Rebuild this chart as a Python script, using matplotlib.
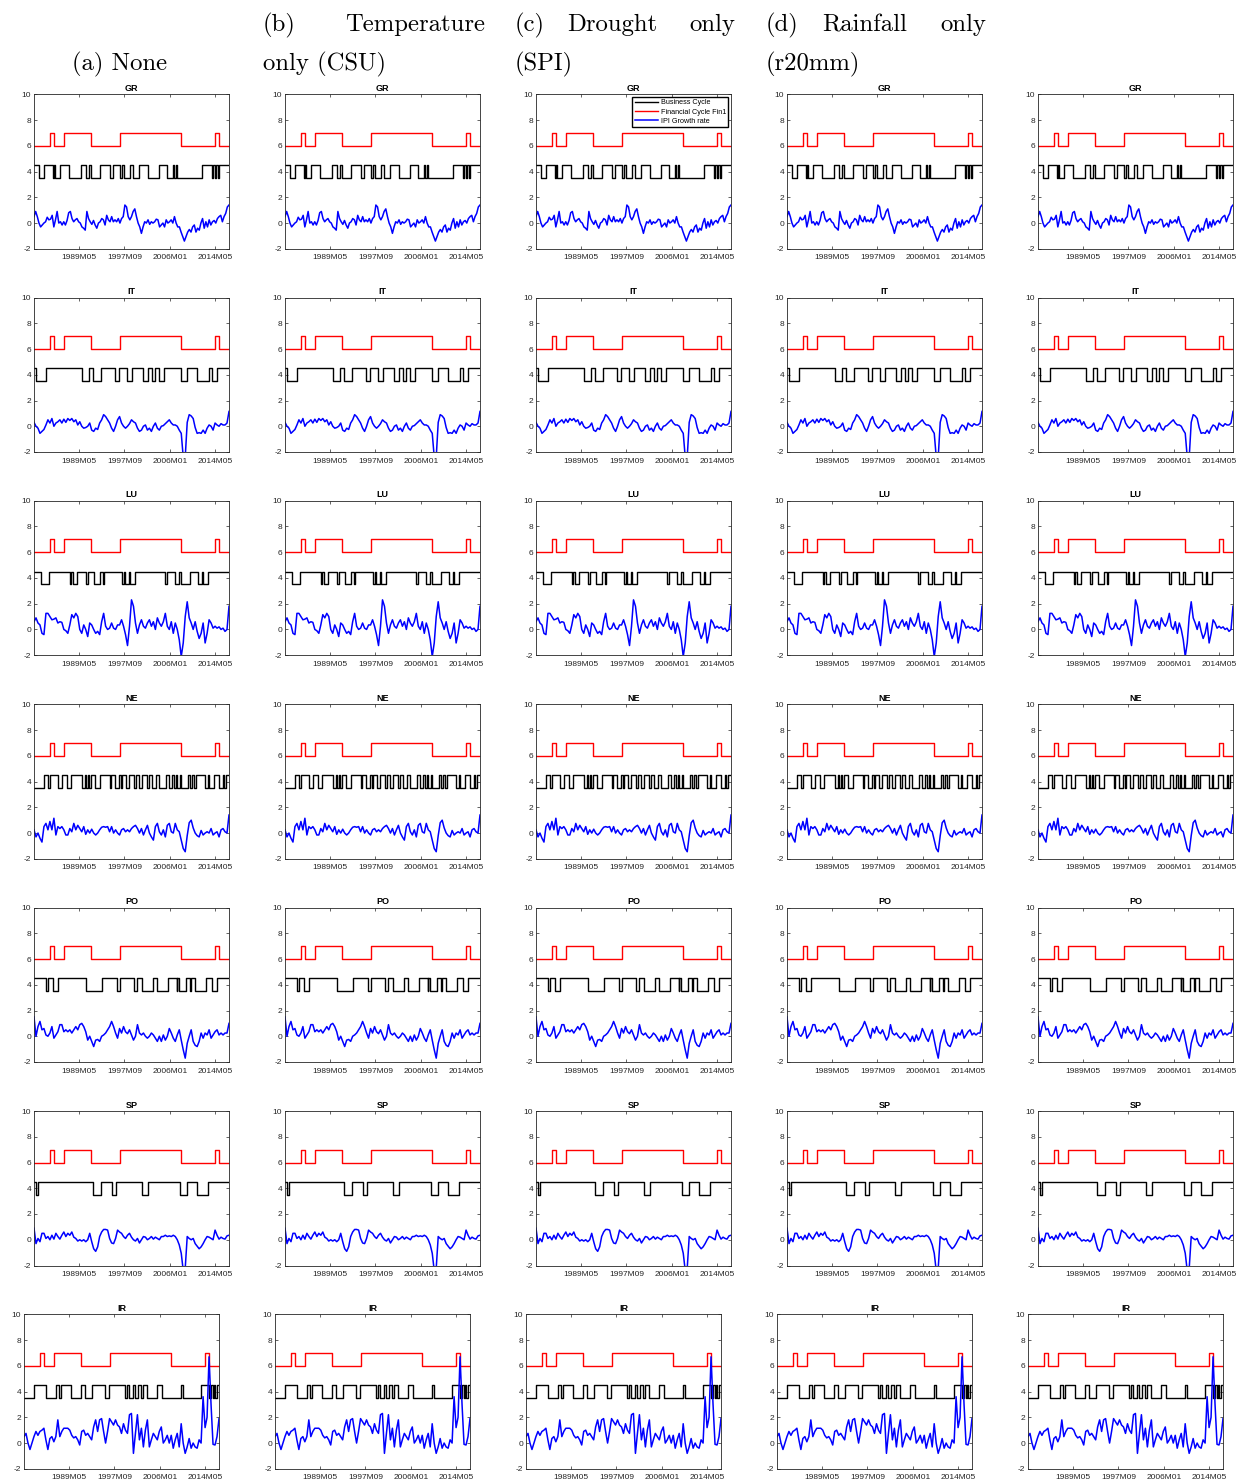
import numpy as np
import matplotlib
matplotlib.use("Agg")
import matplotlib.pyplot as plt

# Monatsindex 1 = 1981M01 ... 432 = 2016M12
months = np.arange(1, 433)
tick_pos = [101, 201, 301, 401]
tick_lab = ["1989M05", "1997M09", "2006M01", "2014M05"]

countries = ["GR", "IT", "LU", "NE", "PO", "SP", "IR"]

# Finanzzyklus (gleich für alle Länder): Phasen im Zustand "hoch"
fin_high = [(37, 46), (68, 127), (190, 326), (402, 410)]

# Konjunkturzyklus: Phasen im Zustand "hoch" (4.5), sonst 3.5
bc_gr = [(1, 13), (22, 44), (46, 48), (59, 78), (104, 115), (122, 126), (146, 168), (175, 190),
         (195, 200), (213, 219), (233, 254), (278, 294), (308, 311), (314, 317), (373, 394),
         (397, 400), (403, 408), (410, 433)]
bc_it = [(1, 5), (27, 108), (122, 132), (150, 179), (189, 206), (217, 241), (252, 262), (268, 278),
         (288, 327), (340, 362), (387, 394), (405, 433)]
bc_lu = [(1, 16), (35, 81), (83, 88), (97, 115), (121, 133), (146, 154), (155, 195), (199, 202),
         (210, 213), (224, 290), (294, 312), (321, 327), (345, 363), (373, 375), (385, 433)]
bc_ne = [(22, 32), (37, 53), (62, 75), (82, 108), (113, 117), (120, 122), (127, 135), (146, 168),
         (171, 181), (189, 193), (196, 205), (212, 221), (227, 232), (239, 250), (256, 261),
         (270, 278), (292, 300), (305, 310), (314, 316), (323, 327), (341, 346), (351, 354),
         (359, 378), (385, 387), (399, 409), (418, 421), (425, 433)]
bc_po = [(1, 27), (32, 44), (54, 115), (151, 184), (191, 221), (228, 239), (265, 272), (297, 316),
         (317, 321), (338, 345), (349, 356), (381, 394), (405, 433)]
bc_sp = [(1, 5), (9, 132), (148, 173), (182, 240), (252, 323), (340, 362), (385, 433)]
bc_ir = [(24, 49), (71, 78), (82, 104), (126, 135), (151, 179), (189, 224), (229, 232), (241, 246),
         (254, 259), (263, 273), (294, 307), (348, 352), (392, 410), (414, 418), (421, 424), (427, 433)]

ipi_gr = [0.5, 0.9, 0.5, 0, -0.3, -0.15, 0, 0.1, 0.45, 0.25, 0.3, 0.6, -0.3, 0.25, 0.9, 0, 0.1,
          -0.15, 0.1, -0.15, 0.2, 0.8, 0.9, 0.35, 0.1, 0.25, 0.35, 0.1, 0, -0.3, -0.4, -0.55, 0.9,
          0.35, 0.1, -0.1, 0.2, -0.15, -0.4, 0, 0.1, 0.35, 0.25, -0.15, 0.6, 0.25, 0.1, 0.5, 0.1,
          0.25, 0.1, 0.35, 0, 0.35, 0.5, 1.4, 1.25, 0.5, 0.25, 0.5, 0.9, 1.1, 0.5, 0, -0.3, -0.8,
          -0.3, 0.1, 0, 0.25, -0.1, 0.1, 0, 0.1, 0.3, 0.25, -0.3, -0.15, 0, -0.3, 0.25, 0, 0.1,
          0.25, 0, 0.5, 0, -0.3, -0.3, -0.7, -1.05, -1.4, -1.05, -0.7, -0.5, -0.7, -0.3, -0.15,
          -0.7, -0.4, -0.55, 0, 0.35, -0.4, 0.1, -0.3, 0.25, -0.15, 0.1, 0.2, 0, 0.35, 0.5, 0.6,
          0.1, 0.5, 0.75, 1.25, 1.4]
ipi_it = [0.3, 0, -0.15, -0.55, -0.4, -0.25, 0.1, 0.5, 0.25, 0.6, 0, 0.25, 0.35, 0.5, 0.25, 0.55,
          0.3, 0.6, 0.45, 0.6, 0.35, 0.5, 0.1, 0.35, 0, -0.15, -0.1, 0, 0.25, -0.3, -0.4, -0.15,
          -0.25, 0.25, 0.5, 0.9, 0.75, 0.5, 0.25, -0.15, -0.4, 0, 0.5, 0.75, 0.25, 0, -0.15, 0,
          0.2, 0.5, 0.35, 0.25, -0.15, -0.4, -0.3, 0, 0.1, -0.3, -0.15, -0.4, 0, 0.25, -0.15,
          -0.3, 0, 0.05, 0.2, 0.35, 0.5, 0.25, 0.1, 0.1, 0, -0.3, -0.55, -2.4, -2.4, 0.3, 0.9,
          0.8, 0.6, -0.1, -0.55, -0.5, -0.55, -0.3, -0.55, -0.15, 0.1, 0, -0.3, 0.25, 0.1, 0, 0.2,
          0.1, 0.1, 0.25, 1.15]
ipi_lu = [0.6, 0.9, 0.5, 0.35, -0.3, -0.4, 1.25, 1.25, 1.0, 0.75, 0.8, 0.9, 0.5, 0.6, 0.55, 0,
          -0.1, -0.3, 0.35, 1.15, 0.9, 1.25, 1.0, 0, -0.3, 0.35, 0, -0.55, 0.5, 0.35, 0, -0.3,
          -0.15, -0.4, 0.6, 1.25, 0.25, 0, 0.1, 0.5, 0.1, 0, 0.35, 0.35, 0.75, 0.25, -0.4, -1.25,
          0.25, 2.3, 1.8, 0.5, -0.3, 0.35, 0.75, 0.25, 0.1, 0.5, 0.75, 0.25, 0.6, 0, 0.9, 0.5,
          0.25, 0.6, 1.25, 0.25, 0, 0.6, -0.3, 0.5, 0, -0.8, -2.1, -1.05, 1.0, 2.15, 0.9, 0.5, 0,
          0.6, -0.15, -0.7, -0.3, 0.5, -1.05, -0.3, 0.75, 0.5, 0.1, 0.25, 0.1, 0.2, 0, 0.1, -0.15,
          0, 1.8]
ipi_ne = [0.25, -0.3, 0, -0.4, -0.7, 0.5, 0.75, 0.25, 0.9, 0.25, 1.15, -0.15, 0.5, 0.35, 0.5,
          0.25, -0.15, -0.15, 0.35, 0.1, 0.75, 0.25, 0.6, 0.35, 0.1, 0.5, -0.1, 0.25, 0, 0.3, 0,
          -0.15, 0, 0.25, 0.45, 0.5, 0.45, 0.5, 0.1, 0.5, 0, 0.25, 0, -0.15, 0.25, 0.35, 0.1,
          0.25, 0.1, 0.35, 0.5, 0.6, 0.35, 0, 0.35, -0.15, 0.25, 0.6, 0, -0.3, -0.55, 0.5, 0.75,
          0.1, -0.15, 0.25, -0.3, 0.6, 0.75, 0.1, 0, 0.75, 0.25, 0.1, -0.55, -1.2, -1.45, -0.2,
          0.8, 1.0, 0.4, 0, -0.2, -0.3, 0.2, -0.15, 0, 0.1, 0, 0.35, -0.15, 0, 0.1, -0.3, 0.25,
          0.35, 0.1, 0, 1.4]
ipi_po = [1.5, 0, 0.75, 1.15, 0.5, 0.6, 0.1, 0, 0.25, 0.75, -0.15, 0.1, 0.35, 0.9, 0.9, 0.35,
          0.5, 0.35, 0.5, 0.25, 0.5, 0.75, 0.5, 0.9, 1.0, 0.75, 0.35, -0.3, 0, -0.4, -0.8, -0.3,
          -0.25, -0.4, 0, 0.1, 0.25, 0.5, 0.75, 1.15, 0.75, 0.25, -0.15, 0.6, 0.25, 0.75, 0.35,
          0.2, 0.5, 0.1, -0.3, 0, 0.9, 0.25, 0.1, 0.25, 0, -0.15, 0, 0.25, 0.1, -0.15, -0.4, 0,
          -0.4, 0.1, -0.3, 0, 0.6, 0.25, -0.15, -0.4, 0.1, 0.5, -0.3, -1.05, -1.7, -0.55, 0, 0.5,
          -0.4, -0.7, -0.8, -0.4, 0.25, -0.15, 0.25, 0.1, 0.5, -0.15, 0.1, 0.35, 0.5, 0.1, 0.25,
          0.1, 0.25, 0.25, 1.0]
ipi_sp = [0.9, -0.3, 0.1, -0.15, 0.5, 0.5, 0.1, 0.25, 0, 0.35, 0.05, 0.5, 0.25, 0.05, 0.35, 0.6,
          0.25, 0.5, 0.35, 0.6, 0.2, 0.1, -0.1, 0, -0.1, 0, -0.15, 0, 0.5, -0.15, -0.7, -0.9,
          -0.55, 0.25, 0.6, 0.8, 0.8, 0.75, 0.1, -0.25, -0.3, 0.1, 0.75, 0.6, 0.5, 0.25, 0.1, 0.35,
          0.5, 0.2, 0, -0.1, 0.1, -0.25, 0, 0.25, 0.2, 0, 0.1, 0.25, 0.05, 0.2, 0.1, 0, 0.25, 0.25,
          0.35, 0.25, 0.3, 0.25, 0.35, 0.25, 0, -0.4, -1.05, -2.4, -2.2, 0.25, 0.1, 0, 0.1, -0.3,
          -0.5, -0.7, -0.55, -0.3, 0, 0.25, 0.2, 0.1, 0, 0.75, 0.35, 0.05, 0.2, 0.1, 0.05, 0.3,
          0.35]
ipi_ir = [0.5, 0.75, 0, -0.5, 0, 0.5, 0.9, 0.6, 0.9, 1.0, 1.15, 0.25, -0.5, 0.35, 0.5, 0.1, 0.5,
          1.8, 0.5, 0.9, 1.15, 1.15, 1.15, 1.0, 0.6, 0.4, 0.5, 0.25, -0.15, 0.9, 1.0, 0.6, 0.75,
          0.5, 0.25, 1.25, 1.8, 0.9, 1.8, 1.9, 0.9, 0, 0.9, 1.9, 1.65, 1.4, 1.8, 1.4, 1.25, 0.75,
          1.5, 1.0, 0.75, 2.2, 2.3, -0.8, 0.75, 2.2, 0.25, 1.15, -0.3, 1.0, 1.8, -0.3, 0.25, 0.75,
          0.5, 0.25, 0.9, 1.25, 0, 0.25, 0.6, 0, 0.6, -0.4, 0.25, 0.75, -0.3, 1.5, 0, -0.8, -0.3,
          0.35, -0.4, 0, -0.3, -0.4, 0.25, 0, 3.6, 1.2, 2.0, 6.7, 3.0, -0.1, -0.15, 0.5, 1.9]

bc_all = dict(zip(countries, [bc_gr, bc_it, bc_lu, bc_ne, bc_po, bc_sp, bc_ir]))
ipi_all = dict(zip(countries, [ipi_gr, ipi_it, ipi_lu, ipi_ne, ipi_po, ipi_sp, ipi_ir]))


def regime(periods, lo, hi):
    s = np.full(months.size, lo, dtype=float)
    for a, b in periods:
        s[(months >= a) & (months < b)] = hi
    return s


plt.rcParams["font.family"] = ["Liberation Sans", "DejaVu Sans"]

W, H = 1238, 1483
fig = plt.figure(figsize=(W / 100, H / 100), dpi=100)

col_left = [34, 285, 536, 787, 1038]
row_top = [94.3, 297.5, 500.7, 704.3, 907.5, 1111.0, 1314.3]
ax_w, ax_h = 195, 154.5

fin = regime(fin_high, 6, 7)
grey = "0.15"

for r, c_name in enumerate(countries):
    bc = regime(bc_all[c_name], 3.5, 4.5)
    ipi = np.array(ipi_all[c_name])
    ipi_x = np.linspace(1, 432, len(ipi))
    shift = -10 if c_name == "IR" else 0
    for c in range(5):
        left = col_left[c] + shift
        ax = fig.add_axes([left / W, 1 - (row_top[r] + ax_h) / H, ax_w / W, ax_h / H])
        l1, = ax.plot(months, bc, color="black", lw=1.0, drawstyle="steps-post")
        l2, = ax.plot(months, fin, color="red", lw=1.0, drawstyle="steps-post")
        l3, = ax.plot(ipi_x, ipi, color="blue", lw=1.1)
        ax.set_xlim(1, 432)
        ax.set_ylim(-2, 10)
        ax.set_yticks(range(-2, 11, 2))
        ax.set_yticklabels([str(v) for v in range(-2, 11, 2)])
        ax.set_xticks(tick_pos)
        ax.set_xticklabels(tick_lab)
        ax.tick_params(direction="in", length=2.5, width=0.5, top=True, right=True,
                       labelsize=6, colors=grey, labelcolor=grey)
        ax.tick_params(axis="x", pad=4)
        ax.tick_params(axis="y", pad=2)
        for sp in ax.spines.values():
            sp.set_linewidth(0.6)
            sp.set_color(grey)
        ax.set_title(c_name, fontsize=6.5, fontweight="bold", pad=2.5)
        if r == 0 and c == 2:
            ax.legend([l1, l2, l3], ["Business Cycle", "Financial Cycle Fin1", "IPI Growth rate"],
                      loc="upper right", fontsize=5.2, fancybox=False, edgecolor="black",
                      framealpha=1, borderpad=0.35, labelspacing=0.3, handlelength=3.3,
                      handletextpad=0.3, borderaxespad=0.35)

# Spaltenüberschriften (Blocksatz nachgebildet)
tkw = dict(family="cmr10", fontsize=17.8, va="baseline", color="black")
line1, line2 = 31.5, 70
fig.text(72 / W, 1 - line2 / H, "(a) None", ha="left", **tkw)
fig.text(263 / W, 1 - line1 / H, "(b)", ha="left", **tkw)
fig.text(485 / W, 1 - line1 / H, "Temperature", ha="right", **tkw)
fig.text(263 / W, 1 - line2 / H, "only (CSU)", ha="left", **tkw)
fig.text(515 / W, 1 - line1 / H, "(c)", ha="left", **tkw)
fig.text(567 / W, 1 - line1 / H, "Drought", ha="left", **tkw)
fig.text(735 / W, 1 - line1 / H, "only", ha="right", **tkw)
fig.text(515 / W, 1 - line2 / H, "(SPI)", ha="left", **tkw)
fig.text(766 / W, 1 - line1 / H, "(d)", ha="left", **tkw)
fig.text(822 / W, 1 - line1 / H, "Rainfall", ha="left", **tkw)
fig.text(986 / W, 1 - line1 / H, "only", ha="right", **tkw)
fig.text(766 / W, 1 - line2 / H, "(r20mm)", ha="left", **tkw)

fig.savefig("out.png", dpi=100)
